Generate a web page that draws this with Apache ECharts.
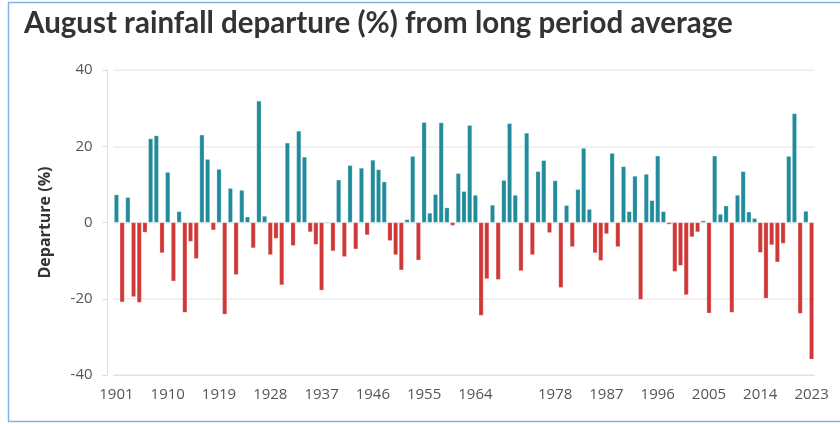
<!DOCTYPE html>
<html>
<head>
<meta charset="utf-8">
<title>August rainfall departure</title>
<script src="https://cdn.jsdelivr.net/npm/echarts@6/dist/echarts.min.js"></script>
<style>
  html, body { margin: 0; padding: 0; background: #fff; }
  #main { width: 840px; height: 424px; }
</style>
</head>
<body>
<div id="main"></div>
<script>
// 年份 1901-2023
var years = [];
for (var y = 1901; y <= 2023; y++) years.push(String(y));

// 八月降雨距平 (%)，从图上读出的估计值
var departure = [
  7.3, -20.9, 6.6, -19.5, -21.0, -2.6, 22.0, 22.8, -8.0, 13.2,
  -15.4, 2.9, -23.6, -5.0, -9.5, 23.0, 16.6, -2.0, 14.0, -24.1,
  9.0, -13.7, 8.5, 1.5, -6.7, 31.9, 1.7, -8.5, -4.2, -16.4,
  20.9, -6.1, 24.0, 17.2, -2.5, -5.8, -17.8, 0.2, -7.5, 11.2,
  -9.0, 15.0, -7.0, 14.3, -3.3, 16.4, 13.9, 10.7, -4.8, -8.5,
  -12.5, 0.8, 17.4, -9.9, 26.3, 2.5, 7.4, 26.2, 3.9, -0.8,
  12.9, 8.2, 25.5, 7.2, -24.4, -14.8, 4.6, -15.0, 11.1, 26.0,
  7.2, -12.7, 23.5, -8.5, 13.4, 16.3, -2.7, 11.0, -17.1, 4.5,
  -6.4, 8.7, 19.5, 3.5, -8.0, -10.0, -3.0, 18.2, -6.4, 14.7,
  2.9, 12.2, -20.2, 12.7, 5.8, 17.5, 2.9, -0.5, -12.9, -11.3,
  -19.0, -3.8, -2.5, 0.5, -23.8, 17.5, 2.2, 4.4, -23.6, 7.2,
  13.4, 2.8, 1.1, -7.9, -19.9, -5.9, -10.4, -5.5, 17.4, 28.6,
  -23.9, 3.0, -35.9
];

// 显示的横轴标签
var xLabels = ['1901', '1910', '1919', '1928', '1937', '1946', '1955', '1964',
  '1978', '1987', '1996', '2005', '2014', '2023'];
var yTicks = [-40, -20, 0, 20, 40];

var posColor = '#1f8b9b', negColor = '#d03737';

var myChart = echarts.init(document.getElementById('main'), null, { renderer: 'canvas' });

var option = {
  animation: false,
  backgroundColor: '#fff',
  title: {
    text: 'August rainfall departure (%) from long period average',
    left: 19,
    top: 3,
    textStyle: { fontFamily: 'Lato', fontWeight: 'bold', fontSize: 29.5, color: '#333' }
  },
  graphic: [{
    type: 'rect',
    silent: true,
    shape: { x: 8.5, y: 2.5, width: 840, height: 419 },
    style: { fill: 'none', stroke: '#86b3e6', lineWidth: 1.5 }
  }],
  grid: { left: 113.6, right: 25.6, top: 70, bottom: 49 },
  xAxis: {
    type: 'category',
    data: years,
    axisLine: { onZero: false, lineStyle: { color: '#e2e2e2', width: 1 } },
    axisTick: { interval: 0, length: 8, lineStyle: { color: '#e4e4e4' } },
    axisLabel: {
      interval: function (i, v) { return xLabels.indexOf(v) >= 0; },
      color: '#555',
      fontFamily: 'Open Sans',
      fontSize: 15,
      margin: 12
    }
  },
  yAxis: {
    type: 'value',
    min: yTicks[0],
    max: yTicks[yTicks.length - 1],
    interval: 20,
    offset: 6,
    name: 'Departure (%)',
    nameLocation: 'middle',
    nameGap: 54,
    nameTextStyle: { fontFamily: 'Open Sans', fontWeight: 'bold', fontSize: 16, color: '#333' },
    axisLine: { show: true, lineStyle: { color: '#e2e2e2' } },
    axisTick: { show: true, length: 5, lineStyle: { color: '#ddd' } },
    axisLabel: { color: '#555', fontFamily: 'Open Sans', fontSize: 15, margin: 15 },
    splitLine: { lineStyle: { color: '#ececec', width: 1.5 } }
  },
  series: [{
    type: 'bar',
    data: departure,
    barCategoryGap: '18%',
    itemStyle: {
      color: function (p) { return p.value >= 0 ? posColor : negColor; },
      borderColor: 'rgba(255,255,255,0.5)',
      borderWidth: 0.5
    }
  }]
};

myChart.setOption(option);
</script>
</body>
</html>
